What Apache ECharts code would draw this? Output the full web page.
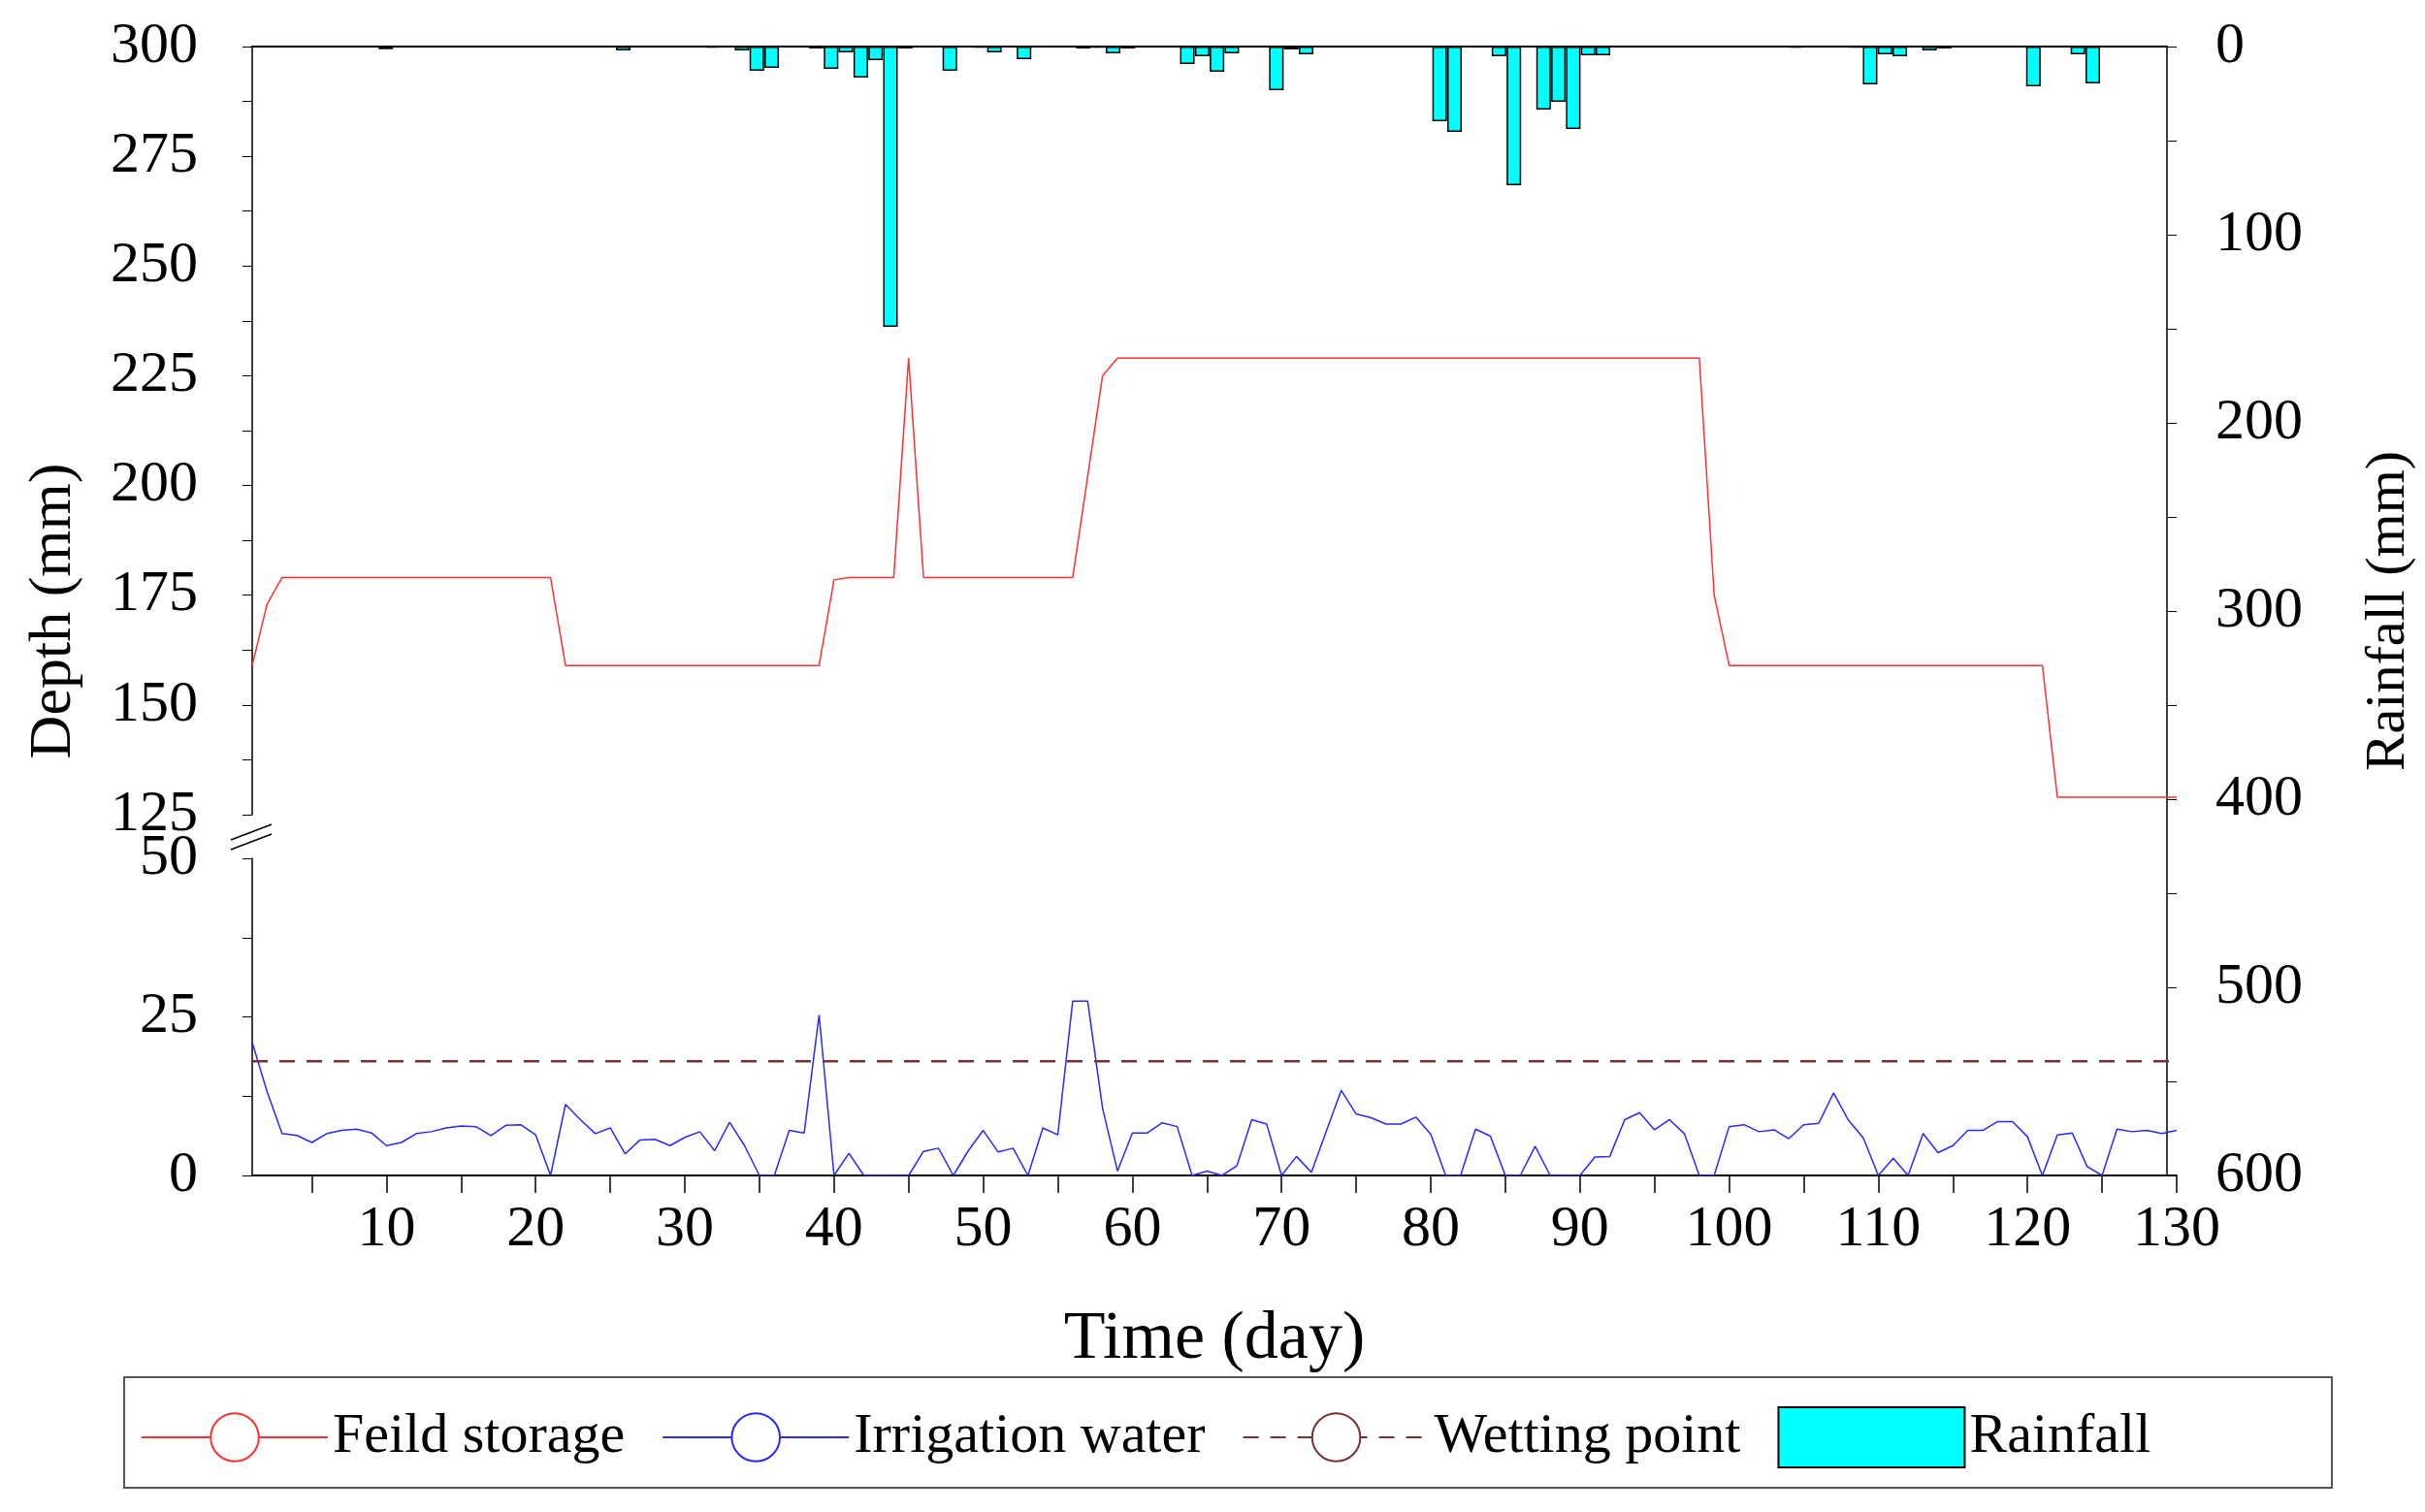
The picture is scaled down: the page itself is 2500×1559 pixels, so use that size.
<!DOCTYPE html>
<html>
<head>
    <meta charset="utf-8">
    <script src="https://cdnjs.cloudflare.com/ajax/libs/echarts/6.0.0/echarts.min.js"></script>
</head>
<body style="margin:0">
    <div id="main" style="width:2500px; height:1559px;"></div>
</body>
<script type="text/javascript">
    // daily values, day 1..130
    const fieldStorage = [159,173,179,179,179,179,179,179,179,179, 179,179,179,179,179,179,179,179,179,179,
        179,159,159,159,159,159,159,159,159,159, 159,159,159,159,159,159,159,159,159,178.5,
        179,179,179,179,229,179,179,179,179,179, 179,179,179,179,179,179,202,225,229,229,
        229,229,229,229,229,229,229,229,229,229, 229,229,229,229,229,229,229,229,229,229,
        229,229,229,229,229,229,229,229,229,229, 229,229,229,229,229,229,229,229,175,159,
        159,159,159,159,159,159,159,159,159,159, 159,159,159,159,159,159,159,159,159,159,
        159,129,129,129,129,129,129,129,129,129];
    const irrigationWater = [21.0,13.2,6.6,6.3,5.2,6.6,7.1,7.3,6.7,4.7, 5.2,6.6,6.9,7.5,7.8,7.7,6.3,7.9,8.0,6.4,
        0,11.2,8.8,6.6,7.5,3.4,5.6,5.7,4.7,6.0, 6.9,3.9,8.4,4.7,0,0,7.1,6.7,25.3,0,
        3.5,0,0,0,0,3.8,4.3,0,3.9,7.1, 3.7,4.3,0,7.5,6.4,27.5,27.5,10.6,0.7,6.7,
        6.7,8.3,7.7,0,0.7,0,1.5,8.8,8.1,0, 3.0,0.5,7.0,13.4,9.7,9.1,8.1,8.1,9.2,6.5,
        0,0,7.3,6.2,0,0,4.6,0,0,0, 2.9,3.0,8.8,9.9,7.2,8.8,6.6,0,0,7.7,
        8.0,6.9,7.2,5.8,8.0,8.2,13.0,8.7,5.9,0, 2.7,0,6.6,3.6,4.7,7.1,7.1,8.5,8.5,6.1,
        0,6.4,6.7,1.4,0,7.3,6.9,7.1,6.6,7.1];
    const wettingPoint = 18;
    // rainfall: [day, mm]
    const rainfall = [[10,1.4],[26,2.1],[32,0.5],[34,2.1],[35,12.9],[36,11.3],[39,1],[40,11.9],[41,3.1],[42,16.5],
        [43,7.2],[44,149],[45,1],[48,12.9],[50,0.5],[51,3.1],[53,6.7],[57,1],[58,0.5],[59,3.6],[60,1],
        [64,9.3],[65,5.2],[66,13.4],[67,3.6],[70,23.2],[71,1.5],[72,4.1],[81,39.7],[82,45.4],[85,5.2],
        [86,73.7],[88,33.5],[89,29.4],[90,43.8],[91,4.6],[92,4.6],[105,0.5],[109,0.5],[110,20.1],[111,4.1],
        [112,5.2],[114,2.1],[115,1],[121,21.1],[124,4.1],[125,19.6]];
    const xLabels = [10,20,30,40,50,60,70,80,90,100,110,120,130];
    const xTicks = [5,10,15,20,25,30,35,40,45,50,55,60,65,70,75,80,85,90,95,100,105,110,115,120,125,130];

    const days = fieldStorage.map((v, i) => i + 1);
    const font = 'Liberation Serif';
    const black = '#000';

    const chart = echarts.init(document.getElementById('main'));
    const L = 260, W = 1984;

    const option = {
        animation: false,
        backgroundColor: '#fff',
        textStyle: { fontFamily: font },
        grid: [
            { left: L, width: W, top: 48, height: 792 },
            { left: L, width: W, top: 885, height: 327 },
            { left: L, width: W, top: 48, height: 1164 }
        ],
        xAxis: [
            { type: 'value', gridIndex: 0, min: 1, max: 130, show: false },
            {
                type: 'value', gridIndex: 1, min: 1, max: 130,
                name: 'Time (day)', nameLocation: 'middle', nameGap: 135,
                nameTextStyle: { fontSize: 70, color: black, fontFamily: font },
                splitLine: { show: false },
                axisLine: { lineStyle: { color: black, width: 2 } },
                axisTick: { customValues: xTicks, length: 18, lineStyle: { color: black, width: 1.5 } },
                axisLabel: { customValues: xLabels, fontSize: 60, color: black, margin: 26, fontFamily: font }
            },
            {
                type: 'value', gridIndex: 2, min: 1, max: 130, position: 'top',
                splitLine: { show: false },
                axisLine: { show: true, lineStyle: { color: black, width: 2 } },
                axisTick: { show: false }, axisLabel: { show: false }
            }
        ],
        yAxis: [
            {
                type: 'value', gridIndex: 0, min: 125, max: 300, interval: 12.5,
                splitLine: { show: false },
                axisLine: { show: true, lineStyle: { color: black, width: 1.5 } },
                axisTick: { show: true, length: 10, lineStyle: { color: black } },
                axisLabel: { fontSize: 60, color: black, margin: 56, fontFamily: font,
                    formatter: v => (v % 25 === 0 ? v : '') }
            },
            {
                type: 'value', gridIndex: 1, min: 0, max: 50, interval: 12.5,
                splitLine: { show: false },
                axisLine: { show: true, lineStyle: { color: black, width: 1.5 } },
                axisTick: { show: true, length: 10, lineStyle: { color: black } },
                axisLabel: { fontSize: 60, color: black, margin: 56, fontFamily: font,
                    formatter: v => (v % 25 === 0 ? v : '') }
            },
            {
                type: 'value', gridIndex: 2, min: 0, max: 600, interval: 50, inverse: true, position: 'right',
                name: 'Rainfall (mm)', nameLocation: 'middle', nameGap: 200, nameRotate: 90,
                nameTextStyle: { fontSize: 58, color: black, fontFamily: font },
                splitLine: { show: false },
                axisLine: { show: true, lineStyle: { color: black, width: 1.5 } },
                axisTick: { show: true, length: 10, lineStyle: { color: black } },
                axisLabel: { fontSize: 60, color: black, margin: 50, fontFamily: font,
                    formatter: v => (v % 100 === 0 ? v : '') }
            }
        ],
        legend: {
            left: 140, top: 1445,
            itemWidth: 192, itemHeight: 62, itemGap: 38,
            textStyle: { fontSize: 58, color: black, fontFamily: font },
            data: [
                { name: 'Feild storage' },
                { name: 'Irrigation water' },
                { name: 'Wetting point' },
                { name: 'Rainfall', icon: 'rect' }
            ]
        },
        graphic: [
            { type: 'rect', shape: { x: 128, y: 1420, width: 2276, height: 114 },
              style: { fill: 'none', stroke: '#555', lineWidth: 2 } },
            { type: 'text', x: 56, y: 630, rotation: Math.PI / 2,
              style: { text: 'Depth (mm)', font: '62px "Liberation Serif"', fill: black,
                       textAlign: 'center', textVerticalAlign: 'middle' } },
            { type: 'line', shape: { x1: 238, y1: 866, x2: 280, y2: 850 }, style: { stroke: black, lineWidth: 1.5 } },
            { type: 'line', shape: { x1: 238, y1: 876, x2: 280, y2: 860 }, style: { stroke: black, lineWidth: 1.5 } }
        ],
        series: [
            {
                name: 'Feild storage', type: 'line', xAxisIndex: 0, yAxisIndex: 0,
                data: days.map((d, i) => [d, fieldStorage[i]]),
                showSymbol: false, lineStyle: { color: '#ff3030', width: 1.5 }, itemStyle: { color: '#ff3030' }
            },
            {
                name: 'Irrigation water', type: 'line', xAxisIndex: 1, yAxisIndex: 1,
                data: days.map((d, i) => [d, irrigationWater[i]]),
                showSymbol: false, lineStyle: { color: '#2828ff', width: 1.5 }, itemStyle: { color: '#2828ff' }
            },
            {
                name: 'Wetting point', type: 'line', xAxisIndex: 1, yAxisIndex: 1,
                data: [[1, wettingPoint], [130, wettingPoint]],
                showSymbol: false, lineStyle: { color: '#7a3030', width: 2.5, type: [16, 12] }, itemStyle: { color: '#7a3030' }
            },
            {
                name: 'Rainfall', type: 'bar', xAxisIndex: 2, yAxisIndex: 2,
                data: rainfall, barWidth: 15,
                itemStyle: { color: '#00ffff', borderColor: black, borderWidth: 1.5 }
            }
        ]
    };
    chart.setOption(option);
</script>
</html>
